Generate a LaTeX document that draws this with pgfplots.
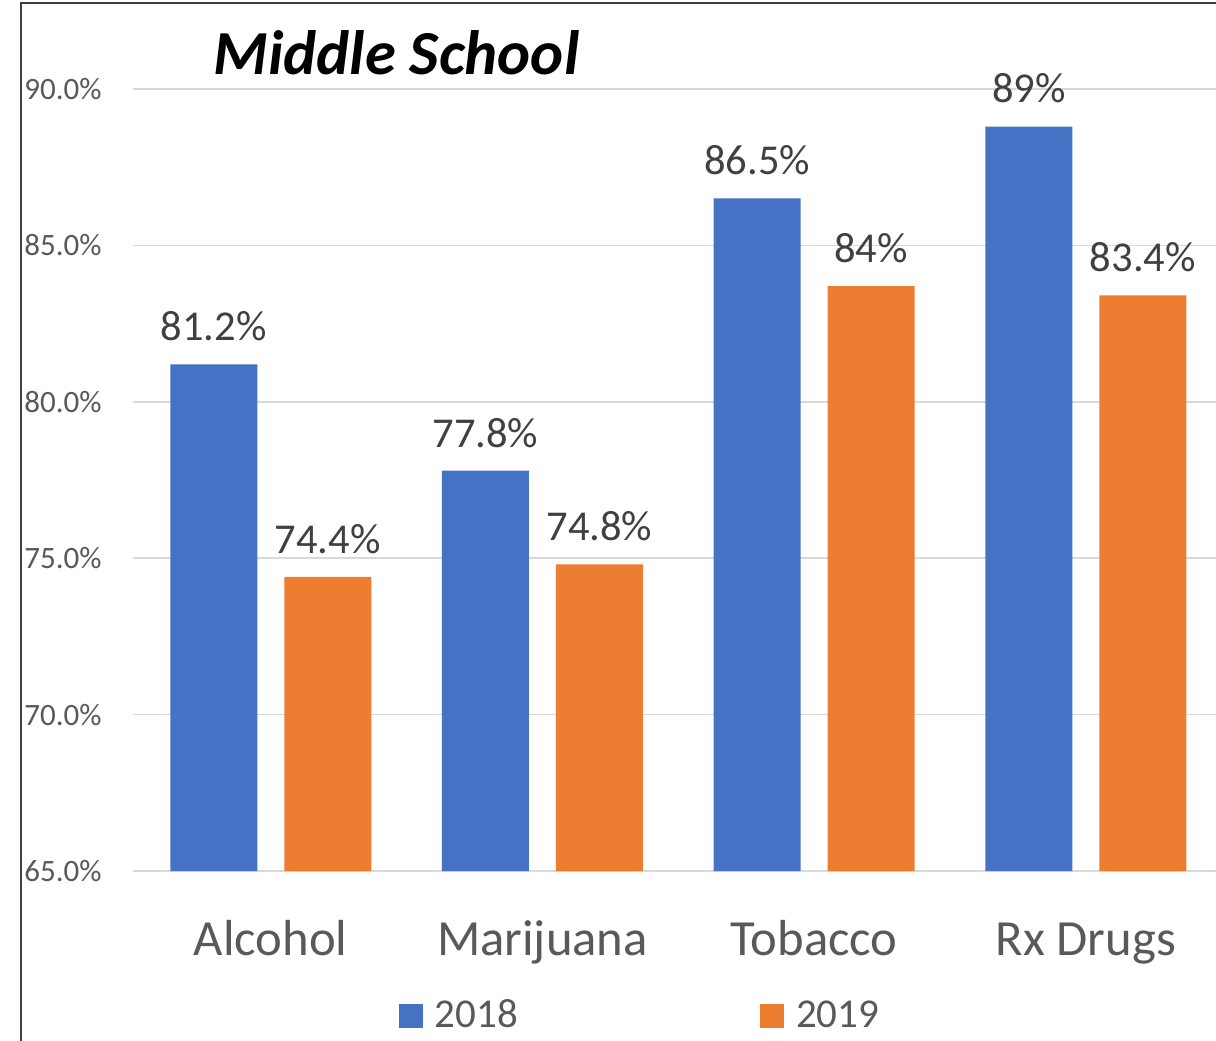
\documentclass[border=0pt]{standalone}
\usepackage{pgfplots}
\pgfplotsset{compat=1.18}
\usepackage{fontspec}
\setmainfont{Carlito}
\definecolor{c2018}{HTML}{4472C4}
\definecolor{c2019}{HTML}{ED7D31}
\definecolor{txtgray}{HTML}{595959}
\definecolor{lblgray}{HTML}{404040}
\definecolor{gridgray}{HTML}{D9D9D9}
\begin{document}
\begin{tikzpicture}
\useasboundingbox (0pt,0pt) rectangle (912pt,-780pt);
\clip (0pt,0pt) rectangle (912pt,-780pt);
\draw[color=lblgray, line width=1.5pt] (15.75pt,-781pt) -- (15.75pt,-2.6pt) -- (913pt,-2.6pt);
\begin{axis}[
  at={(99.75pt,-653.25pt)}, anchor=south west,
  scale only axis, width=815.1pt, height=586.5pt,
  xmin=-0.507, xmax=3.493, ymin=65, ymax=90,
  enlargelimits=false,
  ybar, bar width=65.25pt,
  axis line style={draw=none},
  major tick length=0pt,
  ymajorgrids, grid style={color=gridgray, line width=1.1pt},
  ytick={65,70,75,80,85,90},
  yticklabel={\pgfmathprintnumber[fixed,fixed zerofill,precision=1]{\tick}\%},
  /pgf/number format/assume math mode=true,
  yticklabel style={font=\fontsize{23.3pt}{26pt}\selectfont, text=txtgray, anchor=east, inner sep=0pt, xshift=-23.3pt},
  xtick={0,1,2,3},
  xticklabels={Alcohol,Marijuana,Tobacco,Rx Drugs},
  xticklabel style={font=\fontsize{38pt}{42pt}\selectfont, text=txtgray, anchor=base, inner sep=0pt, yshift=-63pt},
  point meta=explicit symbolic,
  nodes near coords,
  every node near coord/.append style={font=\fontsize{31.9pt}{36pt}\selectfont, text=lblgray, anchor=south, inner sep=0pt, yshift=17.25pt},
  legend columns=2,
  legend style={draw=none, fill=none, at={(0.2447,-0.1829)}, anchor=west,
    inner sep=0pt, outer sep=0pt,
    font=\fontsize{30.75pt}{34pt}\selectfont, text=txtgray,
    nodes={inner sep=0pt, anchor=base west},
    /tikz/every odd column/.append style={column sep=9pt},
    /tikz/every even column/.append style={column sep=181.5pt}},
  legend image code/.code={\fill[#1] (0pt,-0.75pt) rectangle (18pt,17.25pt);},
]
\addplot[fill=c2018, draw=none, bar shift=-42.75pt] coordinates {
  (0,81.2) [81.2\%]
  (1,77.8) [77.8\%]
  (2,86.5) [86.5\%]
  (3,88.8) [89\%]
};
\addplot[fill=c2019, draw=none, bar shift=42.75pt] coordinates {
  (0,74.4) [74.4\%]
  (1,74.8) [74.8\%]
  (2,83.7) [84\%]
  (3,83.4) [83.4\%]
};
\legend{2018,2019}
\end{axis}
\node[anchor=base west, inner sep=0pt, font=\fontsize{47pt}{52pt}\selectfont\bfseries\itshape] at (159.75pt,-55.5pt) {Middle School};
\end{tikzpicture}
\end{document}
